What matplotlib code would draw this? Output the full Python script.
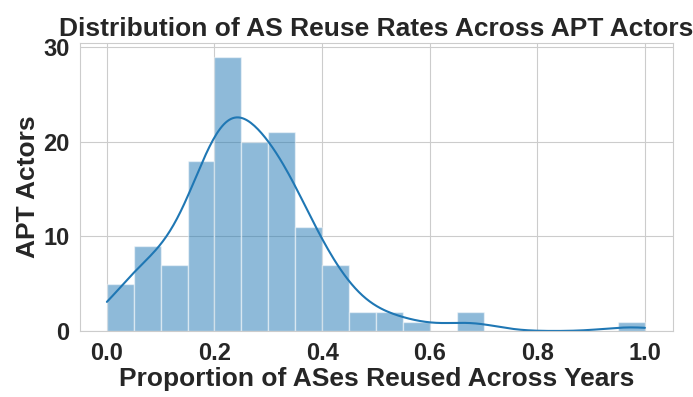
import numpy as np
import matplotlib
matplotlib.use("Agg")
import matplotlib.pyplot as plt
import seaborn as sns

# ---------- histogram data ----------
bin_edges = [0.00, 0.05, 0.10, 0.15, 0.20, 0.25, 0.30, 0.35, 0.40, 0.45,
             0.50, 0.55, 0.60, 0.65, 0.70, 0.75, 0.80, 0.85, 0.90, 0.95, 1.00]
counts = [5, 9, 7, 18, 29, 20, 21, 11, 7, 2,
          2, 1, 0, 2, 0, 0, 0, 0, 0, 1]

title = "Distribution of AS Reuse Rates Across APT Actors"
xlabel = "Proportion of ASes Reused Across Years"
ylabel = "APT Actors"

sns.set_style("whitegrid")
plt.rcParams["font.family"] = ["Liberation Sans", "DejaVu Sans"]
plt.rcParams["font.weight"] = "bold"

edges = np.array(bin_edges)
cnt = np.array(counts, dtype=float)
width = np.diff(edges)
centers = edges[:-1] + width / 2

fig = plt.figure(figsize=(6.93, 3.97), dpi=100)
ax = fig.add_axes([0.1154, 0.166, 0.8556, 0.726])

ax.bar(edges[:-1], cnt, width=width, align="edge", color="#1f77b4",
       alpha=0.5, edgecolor="white", linewidth=1.0)

# weighted gaussian kde (Scott's rule) scaled to counts
n = cnt.sum()
mean = (centers * cnt).sum() / n
std = np.sqrt(((centers - mean) ** 2 * cnt).sum() / (n - 1))
bw = std * n ** (-1 / 5)
xs = np.linspace(0, 1, 300)
dens = (cnt[None, :] * np.exp(-0.5 * ((xs[:, None] - centers[None, :]) / bw) ** 2)).sum(axis=1)
dens /= n * bw * np.sqrt(2 * np.pi)
ax.plot(xs, dens * n * width[0], color="#1f77b4", linewidth=1.5)

ax.set_xlim(-0.05, 1.052)
ax.set_ylim(0, 30.45)
ax.set_xticks([0.0, 0.2, 0.4, 0.6, 0.8, 1.0])
ax.set_yticks([0, 10, 20, 30])
ax.tick_params(labelsize=17, pad=4)
for lab in ax.get_xticklabels() + ax.get_yticklabels():
    lab.set_fontweight("bold")

ax.set_title(title, fontsize=19, fontweight="bold", pad=5)
ax.set_xlabel(xlabel, fontsize=19, fontweight="bold", labelpad=2)
ax.set_ylabel(ylabel, fontsize=19, fontweight="bold", labelpad=2)

fig.savefig("out.png", dpi=100)
